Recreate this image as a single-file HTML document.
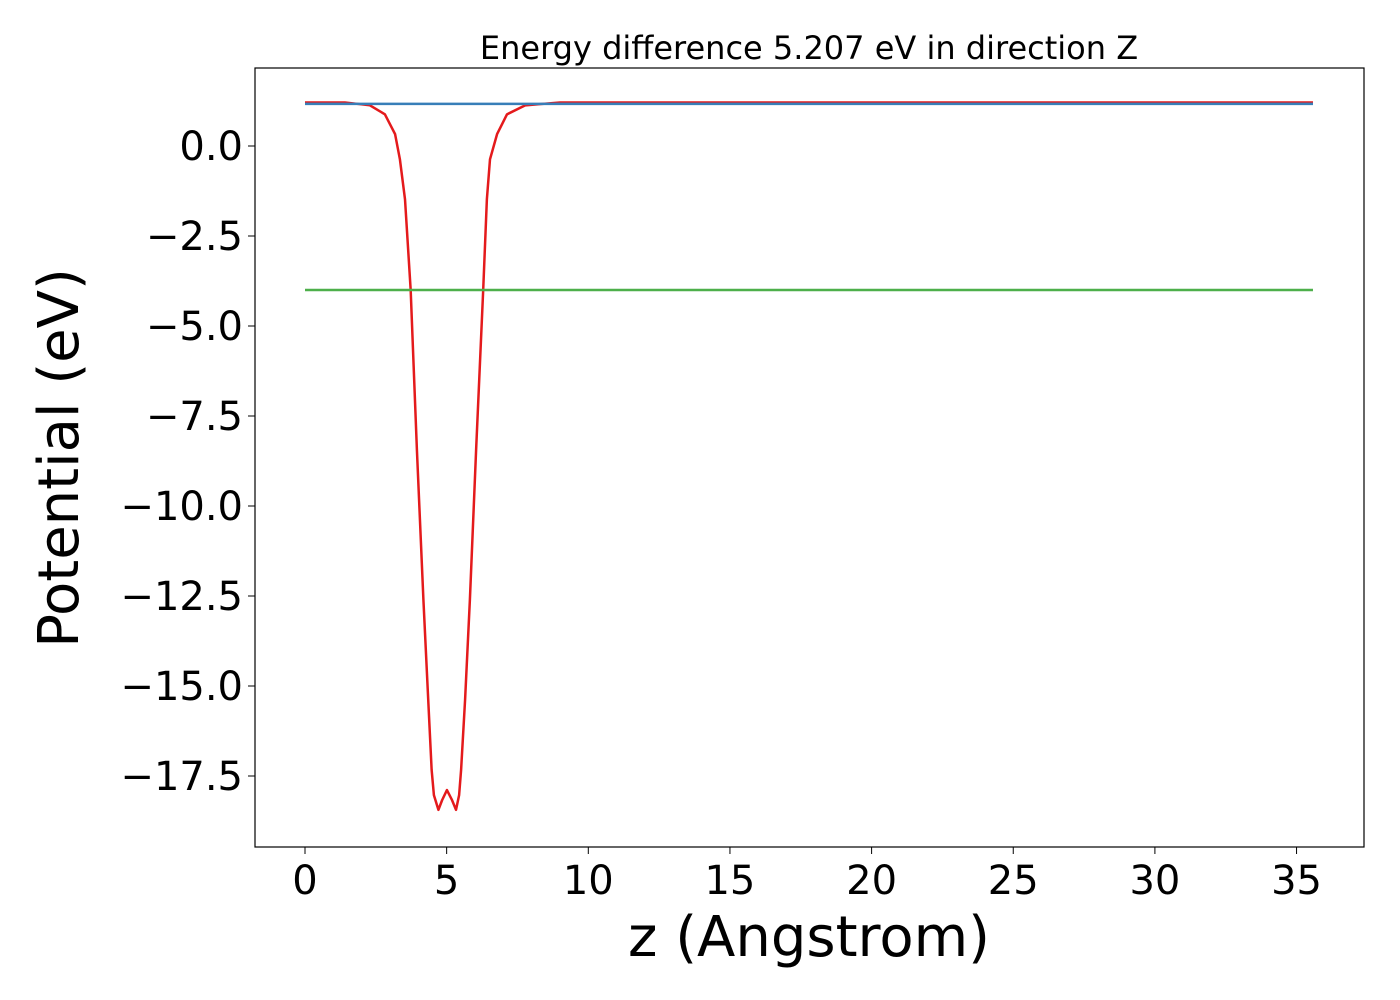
<!DOCTYPE html>
<html><head><meta charset="utf-8"><style>
html,body{margin:0;padding:0;background:#fff;}
svg{display:block;font-family:"DejaVu Sans","Liberation Sans",sans-serif;}
</style></head><body>
<svg id="chart" width="1400" height="1000">
<text x="809" y="59" font-size="32" text-anchor="middle">Energy difference 5.207 eV in direction Z</text>
<g id="plot"></g>
<rect x="255" y="68" width="1109" height="779" fill="none" stroke="#000" stroke-width="1.2"/>
<g id="xticks"></g><g id="yticks"></g>
<text x="809" y="956" font-size="56" text-anchor="middle">z (Angstrom)</text>
<text transform="translate(78,458) rotate(-90)" font-size="56" text-anchor="middle">Potential (eV)</text>
</svg>
<script>
const redZ=[0,1.41,2.29,2.82,3.18,3.35,3.53,3.73,3.95,4.18,4.35,4.47,4.55,4.71,4.84,5.01,5.19,5.33,5.44,5.51,5.65,5.82,6.04,6.29,6.42,6.53,6.78,7.13,7.77,9.0,35.58];
const redV=[1.21,1.21,1.13,0.88,0.33,-0.37,-1.48,-4.0,-8.44,-12.61,-15.39,-17.33,-18.03,-18.44,-18.17,-17.89,-18.17,-18.44,-18.03,-17.33,-15.39,-12.61,-8.44,-4.0,-1.48,-0.37,0.33,0.88,1.13,1.21,1.21];
const blueZ=[0,35.58];
const blueV=[1.17,1.17];
const greenZ=[0,35.58];
const greenV=[-4.0,-4.0];
const xTicks=[0,5,10,15,20,25,30,35];
const yTicks=[0,-2.5,-5,-7.5,-10,-12.5,-15,-17.5];
const yTickLabels=["0.0","\u22122.5","\u22125.0","\u22127.5","\u221210.0","\u221212.5","\u221215.0","\u221217.5"];
const NS="http://www.w3.org/2000/svg";
const xs=z=>305+z*28.33;
const ys=v=>146-v*36;
function line(zs,vs,color,name){
  const p=document.createElementNS(NS,"polyline");
  p.setAttribute("points",zs.map((z,i)=>xs(z)+","+ys(vs[i])).join(" "));
  p.setAttribute("fill","none");p.setAttribute("stroke",color);p.setAttribute("stroke-width","2.5");
  p.setAttribute("stroke-linejoin","round");
  
  
  document.getElementById("plot").appendChild(p);
}
line(redZ,redV,"#e41a1c","red-potential-line");
line(blueZ,blueV,"#377eb8","blue-vacuum-line");
line(greenZ,greenV,"#4daf4a","green-fermi-line");
const xg=document.getElementById("xticks");
xTicks.forEach(t=>{
  const l=document.createElementNS(NS,"line");
  l.setAttribute("x1",xs(t));l.setAttribute("x2",xs(t));l.setAttribute("y1",847);l.setAttribute("y2",854);l.setAttribute("stroke","#000");
  
  
  xg.appendChild(l);
  const tx=document.createElementNS(NS,"text");
  tx.setAttribute("x",xs(t));tx.setAttribute("y",894);tx.setAttribute("font-size","40");tx.setAttribute("text-anchor","middle");
  tx.textContent=String(t);
  
  
  xg.appendChild(tx);
});
const yg=document.getElementById("yticks");
yTicks.forEach((t,i)=>{
  const l=document.createElementNS(NS,"line");
  l.setAttribute("x1",248);l.setAttribute("x2",255);l.setAttribute("y1",ys(t));l.setAttribute("y2",ys(t));l.setAttribute("stroke","#000");
  
  
  yg.appendChild(l);
  const tx=document.createElementNS(NS,"text");
  tx.setAttribute("x",243);tx.setAttribute("y",ys(t)+14);tx.setAttribute("font-size","40");tx.setAttribute("text-anchor","end");
  tx.textContent=yTickLabels[i];
  
  
  yg.appendChild(tx);
});
</script>
</body></html>
